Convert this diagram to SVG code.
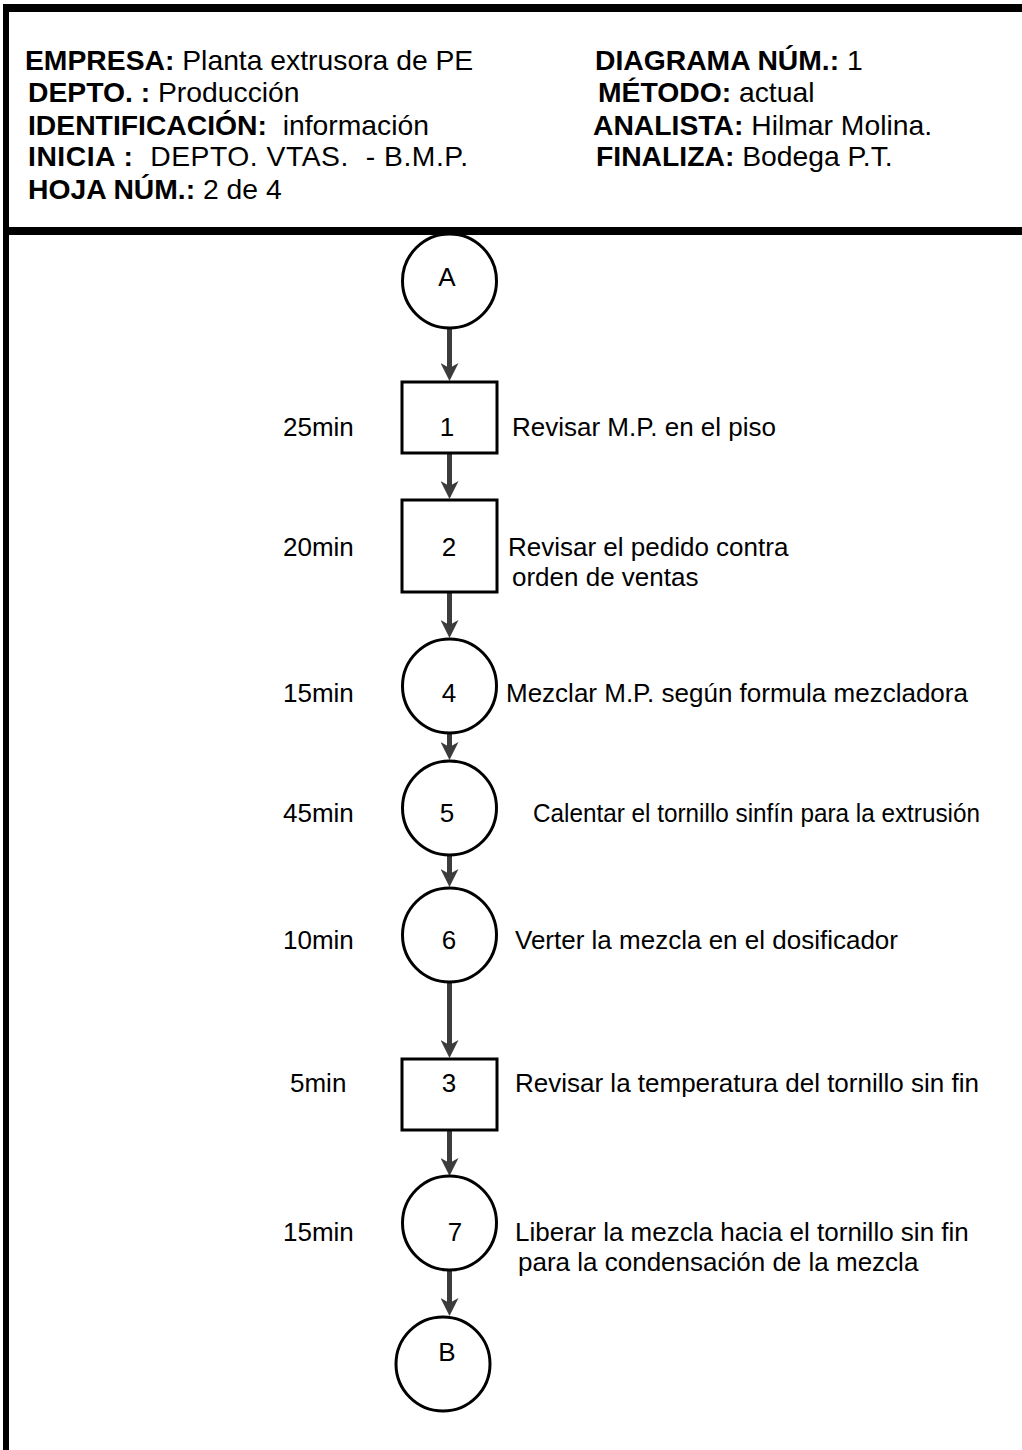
<svg xmlns="http://www.w3.org/2000/svg" width="1022" height="1450" viewBox="0 0 1022 1450">
  <style>
    .frame { fill: #000; }
    text { white-space: pre; }
    .hb { font-family: "Liberation Sans", Arial, sans-serif; font-size: 28.3px; font-weight: bold; fill: #000; }
    .hr { font-weight: normal; }
    .lbl { font-family: "Liberation Sans", Arial, sans-serif; font-size: 26px; fill: #000; }
    .num { font-family: "Liberation Sans", Arial, sans-serif; font-size: 26px; fill: #000; text-anchor: middle; }
    .shape { fill: #fff; stroke: #000; stroke-width: 3; }
    .flow { stroke: #3c3c3c; stroke-width: 5; fill: none; marker-end: url(#head); }
  </style>
  <defs>
    <!-- notched arrowhead, tip reaches 10px beyond the line end -->
    <marker id="head" markerUnits="userSpaceOnUse" markerWidth="20" markerHeight="18" viewBox="0 0 20 18" refX="8" refY="9" orient="auto">
      <path d="M0,0 L18,9 L0,18 L5,9 Z" fill="#3c3c3c"/>
    </marker>
  </defs>

  <!-- page frame and header divider -->
  <g id="frame">
    <rect class="frame" x="3" y="4" width="1019" height="8"/>
    <rect class="frame" x="3" y="4" width="6" height="1446"/>
    <rect class="frame" x="3" y="227" width="1019" height="8"/>
  </g>

  <!-- header block -->
  <g id="header">
    <text class="hb" x="25" y="70">EMPRESA:<tspan class="hr"> Planta extrusora de PE</tspan></text>
    <text class="hb" x="28" y="102">DEPTO. :<tspan class="hr"> Producción</tspan></text>
    <text class="hb" x="28" y="135">IDENTIFICACIÓN:<tspan class="hr">  información</tspan></text>
    <text class="hb" x="28" y="166" textLength="440" lengthAdjust="spacing">INICIA :<tspan class="hr">  DEPTO. VTAS.  - B.M.P.</tspan></text>
    <text class="hb" x="28" y="199">HOJA NÚM.:<tspan class="hr"> 2 de 4</tspan></text>
    <text class="hb" x="595" y="70">DIAGRAMA NÚM.:<tspan class="hr"> 1</tspan></text>
    <text class="hb" x="598" y="102">MÉTODO:<tspan class="hr"> actual</tspan></text>
    <text class="hb" x="593" y="135">ANALISTA:<tspan class="hr"> Hilmar Molina.</tspan></text>
    <text class="hb" x="596" y="166">FINALIZA:<tspan class="hr"> Bodega P.T.</tspan></text>
  </g>

  <!-- connectors -->
  <g id="connectors">
    <line class="flow" x1="449.5" y1="329" x2="449.5" y2="371"/>
    <line class="flow" x1="449.5" y1="454" x2="449.5" y2="489"/>
    <line class="flow" x1="449.5" y1="593" x2="449.5" y2="628"/>
    <line class="flow" x1="449.5" y1="734" x2="449.5" y2="750"/>
    <line class="flow" x1="449.5" y1="855" x2="449.5" y2="877"/>
    <line class="flow" x1="449.5" y1="982" x2="449.5" y2="1048"/>
    <line class="flow" x1="449.5" y1="1131" x2="449.5" y2="1166"/>
    <line class="flow" x1="449.5" y1="1270" x2="449.5" y2="1306"/>
  </g>

  <g id="node-A">
    <circle class="shape" cx="449.5" cy="281" r="47"/>
    <text class="num" x="447" y="286">A</text>
  </g>
  <g id="node-1">
    <rect class="shape" x="402" y="382" width="95" height="71"/>
    <text class="num" x="447" y="436">1</text>
    <text class="lbl" x="283" y="436">25min</text>
    <text class="lbl" x="512" y="436">Revisar M.P. en el piso</text>
  </g>
  <g id="node-2">
    <rect class="shape" x="402" y="500" width="95" height="92"/>
    <text class="num" x="449" y="556">2</text>
    <text class="lbl" x="283" y="556">20min</text>
    <text class="lbl" x="508" y="556">Revisar el pedido contra</text>
    <text class="lbl" x="512" y="586">orden de ventas</text>
  </g>
  <g id="node-4">
    <circle class="shape" cx="449.5" cy="686" r="47"/>
    <text class="num" x="449" y="702">4</text>
    <text class="lbl" x="283" y="702">15min</text>
    <text class="lbl" x="506" y="702">Mezclar M.P. según formula mezcladora</text>
  </g>
  <g id="node-5">
    <circle class="shape" cx="449.5" cy="808" r="47"/>
    <text class="num" x="447" y="822">5</text>
    <text class="lbl" x="283" y="822">45min</text>
    <text class="lbl" x="533" y="822" textLength="447" lengthAdjust="spacingAndGlyphs">Calentar el tornillo sinfín para la extrusión</text>
  </g>
  <g id="node-6">
    <circle class="shape" cx="449.5" cy="935" r="47"/>
    <text class="num" x="449" y="949">6</text>
    <text class="lbl" x="283" y="949">10min</text>
    <text class="lbl" x="515" y="949">Verter la mezcla en el dosificador</text>
  </g>
  <g id="node-3">
    <rect class="shape" x="402" y="1059" width="95" height="71"/>
    <text class="num" x="449" y="1092">3</text>
    <text class="lbl" x="290" y="1092">5min</text>
    <text class="lbl" x="515" y="1092">Revisar la temperatura del tornillo sin fin</text>
  </g>
  <g id="node-7">
    <circle class="shape" cx="449.5" cy="1223" r="47"/>
    <text class="num" x="455" y="1241">7</text>
    <text class="lbl" x="283" y="1241">15min</text>
    <text class="lbl" x="515" y="1241">Liberar la mezcla hacia el tornillo sin fin</text>
    <text class="lbl" x="518" y="1271">para la condensación de la mezcla</text>
  </g>
  <g id="node-B">
    <circle class="shape" cx="443" cy="1364" r="47"/>
    <text class="num" x="447" y="1361">B</text>
  </g>
</svg>
